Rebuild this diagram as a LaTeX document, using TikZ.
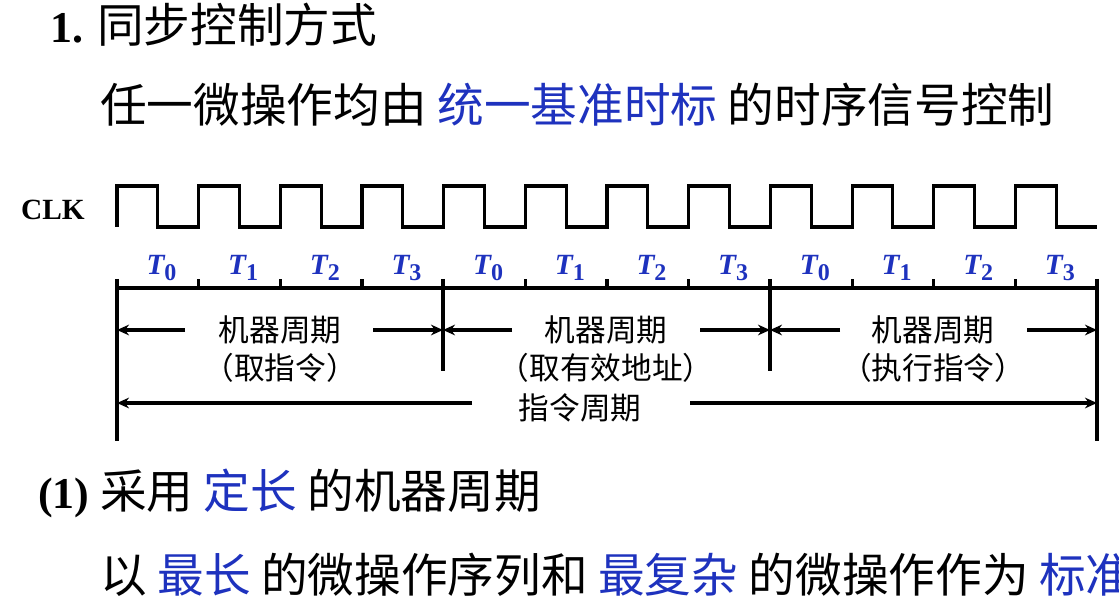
\documentclass[tikz,border=0pt]{standalone}
\usepackage{fontspec}
\setmainfont{Liberation Serif}
\newfontfamily\cjk{Noto Sans CJK SC}
\newfontfamily\lat{Liberation Serif}
\usetikzlibrary{arrows.meta}
\definecolor{tblue}{RGB}{30,50,190}
\tikzset{
  wire/.style={line width=2.3pt},
  dim/.style={line width=2.3pt,-{Stealth[length=9pt,width=8pt]}},
  tl/.style={text=tblue,font=\fontsize{22}{22}\selectfont\bfseries\itshape,inner sep=0},
  lab/.style={font=\cjk\fontsize{23}{24}\selectfont,inner sep=1pt},
  big/.style={font=\cjk\fontsize{35}{38}\selectfont,inner sep=0,anchor=west},
}
\begin{document}
\begin{tikzpicture}[x=0.75pt,y=-0.75pt]
\clip (0,0) rectangle (1119,609);
\fill[white] (0,0) rectangle (1119,609);
% title lines
\node[big] (title) at (50,25) {{\lat\bfseries\fontsize{33}{33}\selectfont 1.} 同步控制方式};
\node[big] (line2) at (100,105) {任一微操作均由 \textcolor{tblue}{统一基准时标} 的时序信号控制};
\node[big] (line3) at (38,493) {{\lat\bfseries\fontsize{33}{33}\selectfont (1)} 采用 \textcolor{tblue}{定长} 的机器周期};
\node[big] (line4) at (100,575) {以 \textcolor{tblue}{最长} 的微操作序列和 \textcolor{tblue}{最复杂} 的微操作作为 \textcolor{tblue}{标准}};
% CLK
\node[font=\bfseries\fontsize{22}{22}\selectfont,inner sep=0] (clk) at (53,210) {CLK};
\def\P{81.67}
\draw[wire] (117,227)
  \foreach \i in {0,...,11}{ -- ({117+\i*\P},186) -- ({117+\i*\P+\P/2},186) -- ({117+\i*\P+\P/2},227) -- ({117+(\i+1)*\P},227) };
% time axis
\coordinate (a0) at (117,288);
\coordinate (a3) at (1097,288);
\draw[wire] (a0) -- (a3);
\foreach \i in {1,2,3,5,6,7,9,10,11}{ \draw[wire] ({117+\i*\P},288) -- ({117+\i*\P},279); }
\foreach \i/\t in {0/0,1/1,2/2,3/3,4/0,5/1,6/2,7/3,8/0,9/1,10/2,11/3}{
  \node[tl] (t\i) at ({117+\i*\P+\P/2+4},268) {T\textsubscript{\normalfont\bfseries\fontsize{18}{18}\selectfont\t}};
}
% big verticals
\coordinate (v0t) at (117,279); \coordinate (v0b) at (117,441);
\coordinate (v1t) at (443,279); \coordinate (v1b) at (443,371);
\coordinate (v2t) at (770,279); \coordinate (v2b) at (770,371);
\coordinate (v3t) at (1097,279); \coordinate (v3b) at (1097,441);
\draw[wire] (v0t) -- (v0b);
\draw[wire] (v1t) -- (v1b);
\draw[wire] (v2t) -- (v2b);
\draw[wire] (v3t) -- (v3b);
% machine cycles
\node[lab] (m1) at (280,330) {机器周期};
\node[lab] (s1) at (280,368) {（取指令）};
\node[lab] (m2) at (606,330) {机器周期};
\node[lab] (s2) at (606,368) {（取有效地址）};
\node[lab] (m3) at (933,330) {机器周期};
\node[lab] (s3) at (933,368) {（执行指令）};
\coordinate (c0) at (117,330); \coordinate (c1) at (443,330);
\coordinate (c2) at (770,330); \coordinate (c3) at (1097,330);
\draw[dim] (185,330) -- (c0);
\draw[dim] (373,330) -- (c1);
\draw[dim] (512,330) -- (c1);
\draw[dim] (700,330) -- (c2);
\draw[dim] (840,330) -- (c2);
\draw[dim] (1027,330) -- (c3);
\node[lab] (ic) at (580,408) {指令周期};
\coordinate (d0) at (117,403); \coordinate (d3) at (1097,403);
\draw[dim] (472,403) -- (d0);
\draw[dim] (690,403) -- (d3);
\end{tikzpicture}
\end{document}
